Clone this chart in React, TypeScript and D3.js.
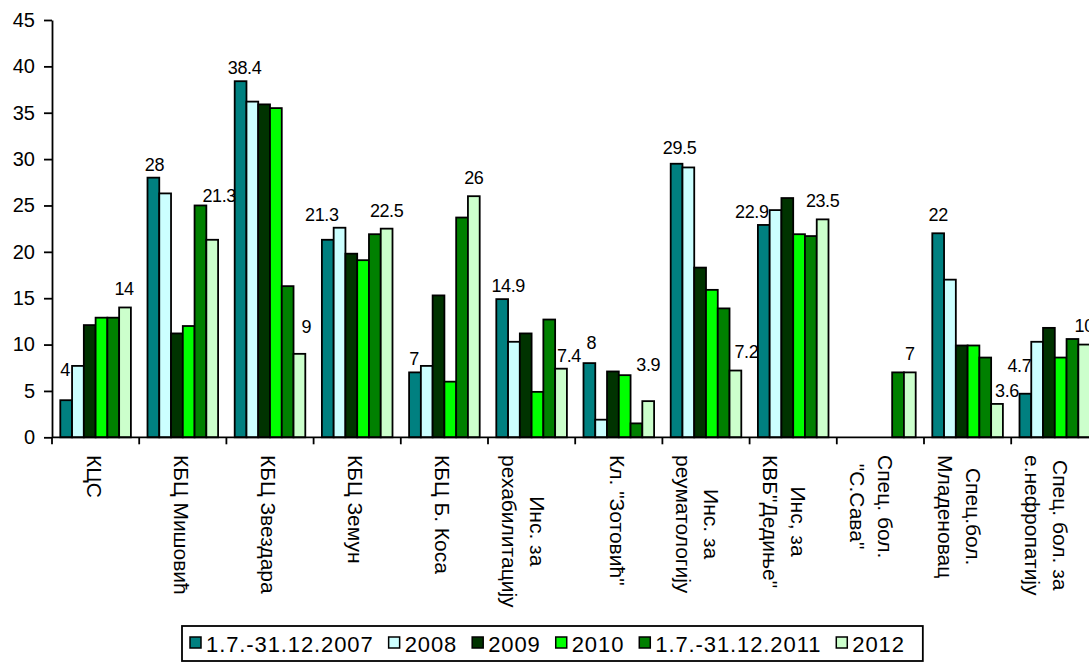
import * as d3 from "d3";
import { useEffect, useRef } from "react";

const WIDTH = 1089;
const HEIGHT = 662;
const FONT = "'Liberation Sans', Arial, sans-serif";

// category labels, one entry per line
const categories = [
    ["КЦС"],
    ["КБЦ Мишовић"],
    ["КБЦ Звездара"],
    ["КБЦ Земун"],
    ["КБЦ Б. Коса"],
    ["Инс. за", "рехабилитацију"],
    ['Кл. "Зотовић"'],
    ["Инс. за", "реуматологију"],
    ["Инс, за", 'КВБ"Дедиње"'],
    ["Спец. бол.", '"С.Сава"'],
    ["Спец.бол.", "Младеновац"],
    ["Спец. бол. за", "е.нефропатију"],
];

const seriesNames = ["1.7.-31.12.2007", "2008", "2009", "2010", "1.7.-31.12.2011", "2012"];
const seriesColors = ["#008080", "#CCFFFF", "#003300", "#00FF00", "#008000", "#CCFFCC"];

const v2007 = [4, 28, 38.4, 21.3, 7, 14.9, 8, 29.5, 22.9, null, 22, 4.7];
const v2008 = [7.7, 26.3, 36.2, 22.6, 7.7, 10.3, 1.9, 29.1, 24.5, null, 17, 10.3];
const v2009 = [12.1, 11.2, 35.9, 19.8, 15.3, 11.2, 7.1, 18.3, 25.8, null, 9.9, 11.8];
const v2010 = [12.9, 12, 35.5, 19.1, 6, 4.9, 6.7, 15.9, 21.9, null, 9.9, 8.6];
const v2011 = [12.9, 25, 16.3, 21.9, 23.7, 12.7, 1.5, 13.9, 21.7, 7, 8.6, 10.6];
const v2012 = [14, 21.3, 9, 22.5, 26, 7.4, 3.9, 7.2, 23.5, 7, 3.6, 10];
const seriesValues = [v2007, v2008, v2009, v2010, v2011, v2012];

const yTicks = [0, 5, 10, 15, 20, 25, 30, 35, 40, 45];

// hand-moved data labels in the original (dx, lift) for first and last series
const nudgeFirst = [[-1, 17], [1, 0], [4, 0], [-6, 12], [-1, 0], [6, 0], [2, 7], [3, 3], [-12, 0], [0, 0], [0, 5], [-6, 15]];
const nudgeLast = [[-1, 5], [7, 31], [7, 14], [0, 5], [0, 5], [8, 0], [0, 23], [11, 6], [0, 5], [0, 5], [10, 0], [0, 6]];

export default function App() {
    const svgRef = useRef<SVGSVGElement | null>(null);

    useEffect(() => {
        if (!svgRef.current) return;
        const svg = d3.select(svgRef.current);
        svg.selectAll("*").remove();

        const left = 52;
        const band = 87.2;
        const top = 20;
        const bottom = 437.3;

        const idx = categories.map((_, i) => i);
        const x0 = d3.scaleBand<number>().domain(idx).range([left, left + band * categories.length]).padding(0);
        const x1 = d3
            .scaleBand<number>()
            .domain(seriesNames.map((_, i) => i))
            .range([8.3, band - 8.3])
            .padding(0);
        const y = d3.scaleLinear().domain([0, 45]).range([bottom, top]);

        const g = svg.append("g").attr("font-family", FONT);

        // bars
        const groups = g
            .selectAll("g.cat")
            .data(idx)
            .enter()
            .append("g")
            .attr("transform", (i) => `translate(${x0(i)},0)`);
        groups
            .selectAll("rect")
            .data((i) =>
                seriesValues.map((vals, s) => ({ s, v: vals[i] })).filter((d) => d.v !== null)
            )
            .enter()
            .append("rect")
            .attr("x", (d) => x1(d.s) ?? 0)
            .attr("y", (d) => y(d.v as number))
            .attr("width", x1.bandwidth())
            .attr("height", (d) => bottom - y(d.v as number))
            .attr("fill", (d) => seriesColors[d.s])
            .attr("stroke", "#000")
            .attr("stroke-width", 1.8);

        // axes
        const axisY = g.append("g").attr("transform", `translate(${left},0)`);
        axisY.call(d3.axisLeft(y).tickValues(yTicks).tickSize(8).tickSizeOuter(0).tickPadding(9));
        axisY.select(".domain").attr("stroke", "#000").attr("stroke-width", 1.8);
        axisY.selectAll(".tick line").attr("stroke", "#000").attr("stroke-width", 1.8);
        axisY
            .selectAll(".tick text")
            .attr("font-family", FONT)
            .attr("font-size", 20)
            .attr("fill", "#000");

        g.append("line")
            .attr("x1", left)
            .attr("x2", left + band * categories.length)
            .attr("y1", bottom)
            .attr("y2", bottom)
            .attr("stroke", "#000")
            .attr("stroke-width", 1.8);
        g.selectAll("line.xtick")
            .data(d3.range(categories.length + 1))
            .enter()
            .append("line")
            .attr("x1", (i) => left + band * i)
            .attr("x2", (i) => left + band * i)
            .attr("y1", bottom)
            .attr("y2", bottom + 7)
            .attr("stroke", "#000")
            .attr("stroke-width", 1.8);

        // category labels, rotated, lines centred within block that starts under the axis
        idx.forEach((i) => {
            const lines = categories[i];
            const cx = (x0(i) ?? 0) + band / 2;
            const lg = g.append("g").attr("transform", `translate(${cx},455) rotate(90)`);
            const texts = lines.map((line, k) =>
                lg
                    .append("text")
                    .attr("font-size", 21)
                    .attr("fill", "#000")
                    .attr("text-anchor", "middle")
                    .attr("y", 2 - (lines.length - 1) * 7 + k * 28 + 7)
                    .text(line)
            );
            const maxLen = d3.max(texts, (t) => (t.node() as SVGTextElement).getComputedTextLength()) ?? 0;
            texts.forEach((t) => t.attr("x", maxLen / 2));
        });

        // data labels for first and last series
        const labelLayer = g.append("g").attr("font-size", 18).attr("letter-spacing", -0.4).attr("fill", "#000");
        [
            { s: 0, nudge: nudgeFirst },
            { s: 5, nudge: nudgeLast },
        ].forEach(({ s, nudge }) => {
            seriesValues[s].forEach((v, i) => {
                if (v === null) return;
                const bx = (x0(i) ?? 0) + (x1(s) ?? 0) + x1.bandwidth() / 2;
                labelLayer
                    .append("text")
                    .attr("x", bx + nudge[i][0])
                    .attr("y", y(v) - 7 - nudge[i][1])
                    .attr("text-anchor", "middle")
                    .text(String(v));
            });
        });

        // legend
        const legend = g.append("g");
        const box = legend
            .append("rect")
            .attr("x", 182)
            .attr("y", 626)
            .attr("height", 35)
            .attr("fill", "#fff")
            .attr("stroke", "#000")
            .attr("stroke-width", 1.8);
        let lx = 190;
        seriesNames.forEach((name, s) => {
            legend
                .append("rect")
                .attr("x", lx)
                .attr("y", 637)
                .attr("width", 11)
                .attr("height", 11)
                .attr("fill", seriesColors[s])
                .attr("stroke", "#000")
                .attr("stroke-width", 1.5);
            const t = legend
                .append("text")
                .attr("x", lx + 16)
                .attr("y", 652)
                .attr("font-size", 22)
                .attr("letter-spacing", 0.9)
                .attr("fill", "#000")
                .text(name);
            const w = (t.node() as SVGTextElement).getComputedTextLength();
            lx = lx + 16 + w + 15;
        });
        box.attr("width", lx - 182 + 3);

        return () => {
            svg.selectAll("*").remove();
        };
    }, []);

    return (
        <svg
            ref={svgRef}
            width={WIDTH}
            height={HEIGHT}
            style={{ position: "absolute", left: 0, top: 0, background: "#fff" }}
        />
    );
}
